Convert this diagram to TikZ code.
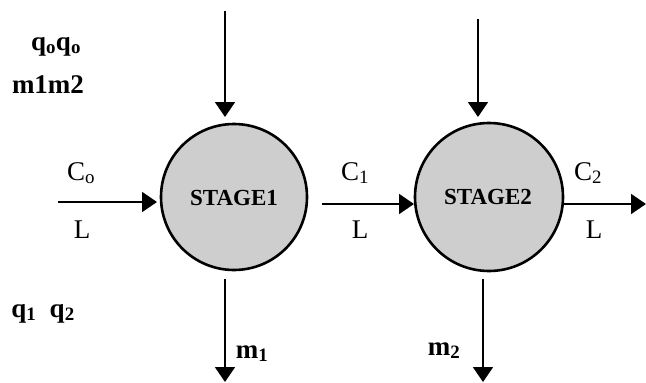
\documentclass[tikz,border=0pt]{standalone}
\usepackage{fontspec}
\setmainfont{Liberation Serif}
\usetikzlibrary{arrows.meta}
\definecolor{stagefill}{RGB}{206,206,206}
\tikzset{
  stagebox/.style={circle, draw=black, line width=2.6pt, fill=stagefill, minimum size=#1, inner sep=0pt},
  flow/.style={line width=1.8pt, -{Triangle[length=15pt,width=20pt]}},
  lab/.style={anchor=base, inner sep=0pt, font=\fontsize{27}{29}\selectfont},
  blab/.style={anchor=base, inner sep=0pt, font=\fontsize{27}{29}\selectfont\bfseries},
  stagetext/.style={font=\fontsize{23}{26}\selectfont\bfseries}
}
\newcommand{\sbs}[1]{\textsubscript{#1}}
\begin{document}
\begin{tikzpicture}[x=1pt,y=-1pt]
\useasboundingbox (0,0) rectangle (646,383);
% stages
\node[stagebox=146pt] (s1) at (234,197) {};
\node[stagebox=148pt] (s2) at (489,197) {};
\node[stagetext, anchor=base] (t1) at (234,205) {STAGE1};
\node[stagetext, anchor=base] (t2) at (488,204) {STAGE2};
% free ends
\coordinate (a1s) at (225,11);
\coordinate (a1e) at (225,117);
\coordinate (a2s) at (478,19);
\coordinate (a2e) at (478,117);
\coordinate (b1s) at (225,279);
\coordinate (b1e) at (225,382);
\coordinate (b2s) at (483,279);
\coordinate (b2e) at (483,382);
\coordinate (i0s) at (58,202);
\coordinate (i0e) at (157,202);
\coordinate (i1s) at (322,204);
\coordinate (i1e) at (414,204);
\coordinate (i2s) at (564,204);
\coordinate (i2e) at (646,204);
\draw[flow] (a1s) -- (a1e);
\draw[flow] (a2s) -- (a2e);
\draw[flow] (b1s) -- (b1e);
\draw[flow] (b2s) -- (b2e);
\draw[flow] (i0s) -- (i0e);
\draw[flow] (i1s) -- (i1e);
\draw[flow] (i2s) -- (i2e);
% labels
\node[blab] (qq) at (56,50) {q\sbs{o}q\sbs{o}};
\node[blab] (mm) at (48,93) {m1m2};
\node[blab] (q12) at (43,317) {q\sbs{1}\ \ q\sbs{2}};
\node[lab] (c0) at (81,180) {C\sbs{o}};
\node[lab] (l0) at (82,238) {L};
\node[lab] (c1) at (355,180) {C\sbs{1}};
\node[lab] (l1) at (360,238) {L};
\node[lab] (c2) at (588,180) {C\sbs{2}};
\node[lab] (l2) at (594,238) {L};
\node[blab] (m1) at (252,358) {m\sbs{1}};
\node[blab] (m2) at (444,355) {m\sbs{2}};
\end{tikzpicture}
\end{document}
